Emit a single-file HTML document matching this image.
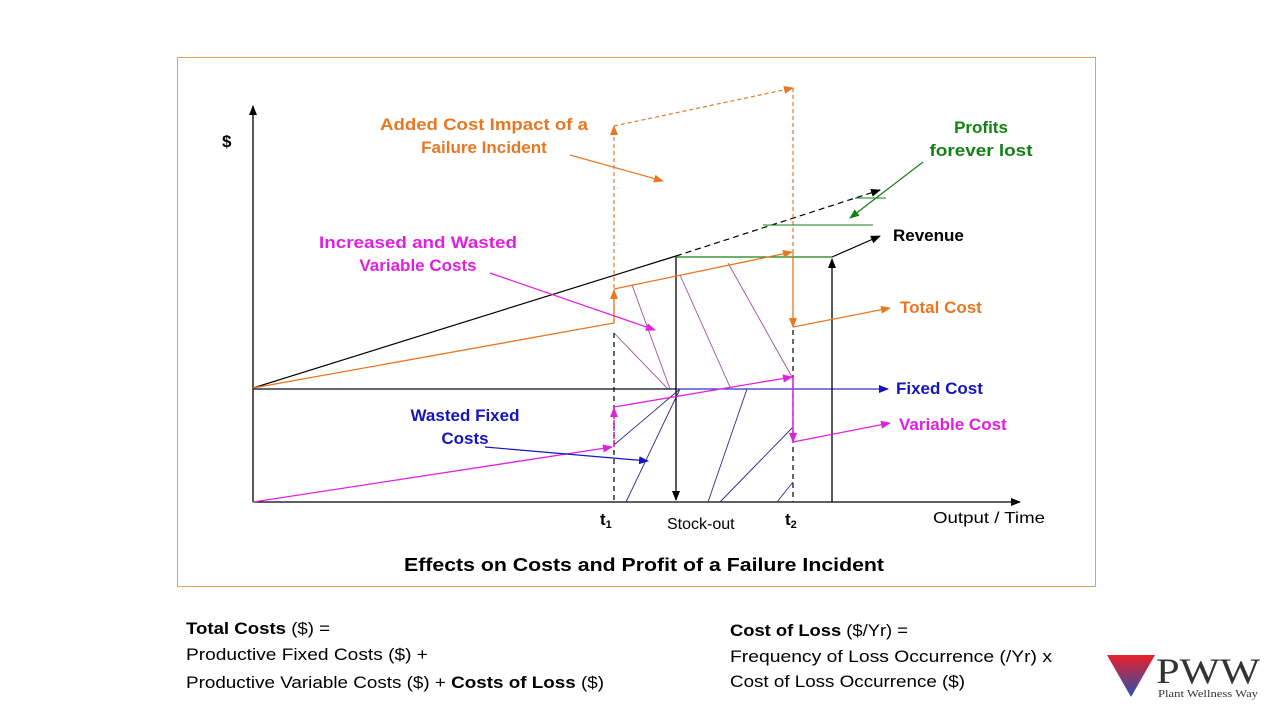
<!DOCTYPE html>
<html><head><meta charset="utf-8"><style>
html,body{margin:0;padding:0;background:#fff}
svg{display:block}
</style></head><body>
<svg width="1280" height="720" viewBox="0 0 1280 720" xmlns="http://www.w3.org/2000/svg" font-family="Liberation Sans, sans-serif">
<defs>
<marker id="ak" markerWidth="10" markerHeight="8" refX="9" refY="4" orient="auto" markerUnits="userSpaceOnUse"><path d="M0,0L10,4L0,8z" fill="#000"/></marker>
<marker id="ao" markerWidth="10" markerHeight="8" refX="9" refY="4" orient="auto" markerUnits="userSpaceOnUse"><path d="M0,0L10,4L0,8z" fill="#e87722"/></marker>
<marker id="ap" markerWidth="10" markerHeight="8" refX="9" refY="4" orient="auto" markerUnits="userSpaceOnUse"><path d="M0,0L10,4L0,8z" fill="#e020e0"/></marker>
<marker id="ab" markerWidth="10" markerHeight="8" refX="9" refY="4" orient="auto" markerUnits="userSpaceOnUse"><path d="M0,0L10,4L0,8z" fill="#1515c0"/></marker>
<marker id="ag" markerWidth="10" markerHeight="8" refX="9" refY="4" orient="auto" markerUnits="userSpaceOnUse"><path d="M0,0L10,4L0,8z" fill="#138013"/></marker>
<linearGradient id="tri" x1="0" y1="0" x2="0" y2="1"><stop offset="0" stop-color="#e8202a"/><stop offset="1" stop-color="#2a4fb0"/></linearGradient>
</defs>
<rect x="177.5" y="57.5" width="918" height="529" fill="none" stroke="#e0a060" stroke-width="1"/>
<line x1="253" y1="502" x2="253" y2="106" stroke="#000" stroke-width="1.3" marker-end="url(#ak)"/>
<line x1="253" y1="502" x2="1020" y2="502" stroke="#000" stroke-width="1.3" marker-end="url(#ak)"/>
<g stroke="#a050a0" stroke-width="0.9">
<line x1="614" y1="333" x2="668" y2="389"/>
<line x1="632" y1="285" x2="670" y2="389"/>
<line x1="680" y1="275" x2="730" y2="387"/>
<line x1="728" y1="263" x2="792" y2="377"/>
</g>
<g stroke="#2a2a90" stroke-width="0.9">
<line x1="614" y1="445" x2="680" y2="389"/>
<line x1="626" y1="502" x2="680" y2="389"/>
<line x1="708" y1="502" x2="747" y2="389"/>
<line x1="777" y1="502" x2="793" y2="482"/>
<line x1="720" y1="502" x2="793" y2="427"/>
</g>
<line x1="253" y1="389" x2="888" y2="389" stroke="#3030c8" stroke-width="1.3" marker-end="url(#ab)"/>
<line x1="253" y1="389" x2="676" y2="389" stroke="#000" stroke-width="1"/>
<line x1="253" y1="388" x2="676" y2="256" stroke="#000" stroke-width="1.2"/>
<line x1="676" y1="256" x2="880" y2="190" stroke="#000" stroke-width="1.2" stroke-dasharray="6,4" marker-end="url(#ak)"/>
<line x1="832" y1="257" x2="880" y2="236" stroke="#000" stroke-width="1.2" marker-end="url(#ak)"/>
<line x1="676" y1="257" x2="676" y2="500" stroke="#000" stroke-width="1.3" marker-end="url(#ak)"/>
<line x1="832" y1="502" x2="832" y2="259" stroke="#000" stroke-width="1.3" marker-end="url(#ak)"/>
<line x1="676" y1="257" x2="832" y2="257" stroke="#138013" stroke-width="1.3"/>
<line x1="614" y1="333" x2="614" y2="502" stroke="#000" stroke-width="1.2" stroke-dasharray="5,4"/>
<line x1="793" y1="330" x2="793" y2="502" stroke="#000" stroke-width="1.2" stroke-dasharray="5,4"/>
<line x1="614" y1="323" x2="614" y2="126" stroke="#e87722" stroke-width="1.2" stroke-dasharray="4,3" marker-end="url(#ao)"/>
<line x1="614" y1="126" x2="793" y2="88" stroke="#e87722" stroke-width="1.2" stroke-dasharray="4,3" marker-end="url(#ao)"/>
<line x1="793" y1="88" x2="793" y2="252" stroke="#e87722" stroke-width="1.2" stroke-dasharray="4,3"/>
<polyline points="253,388 614,323 614,290" fill="none" stroke="#e87722" stroke-width="1.3" marker-end="url(#ao)"/>
<line x1="614" y1="289" x2="792" y2="252" stroke="#e87722" stroke-width="1.3" marker-end="url(#ao)"/>
<line x1="793" y1="252" x2="793" y2="327" stroke="#e87722" stroke-width="1.3" marker-end="url(#ao)"/>
<line x1="793" y1="327" x2="890" y2="308" stroke="#e87722" stroke-width="1.3" marker-end="url(#ao)"/>
<line x1="253" y1="502" x2="612" y2="447" stroke="#e020e0" stroke-width="1.3" marker-end="url(#ap)"/>
<line x1="614" y1="447" x2="614" y2="408" stroke="#e020e0" stroke-width="1.5" stroke-dasharray="3,1" marker-end="url(#ap)"/>
<line x1="614" y1="407" x2="792" y2="377" stroke="#e020e0" stroke-width="1.3" marker-end="url(#ap)"/>
<line x1="793" y1="377" x2="793" y2="442" stroke="#e020e0" stroke-width="1.5" marker-end="url(#ap)"/>
<line x1="793" y1="442" x2="890" y2="423" stroke="#e020e0" stroke-width="1.3" marker-end="url(#ap)"/>
<line x1="570" y1="155" x2="663" y2="181" stroke="#e87722" stroke-width="1.2" marker-end="url(#ao)"/>
<line x1="490" y1="273" x2="655" y2="330" stroke="#e020e0" stroke-width="1.2" marker-end="url(#ap)"/>
<line x1="485" y1="447" x2="648" y2="461" stroke="#1515c0" stroke-width="1.2" marker-end="url(#ab)"/>
<line x1="923" y1="162" x2="850" y2="218" stroke="#138013" stroke-width="1.2" marker-end="url(#ag)"/>
<line x1="855" y1="198" x2="886" y2="198" stroke="#138013" stroke-width="1"/>
<line x1="763" y1="225" x2="873" y2="225" stroke="#138013" stroke-width="1"/>
<g font-weight="bold" font-size="17">
<text x="222" y="147" fill="#000">$</text>
<text x="484" y="130" fill="#e87722" text-anchor="middle" textLength="208" lengthAdjust="spacingAndGlyphs">Added Cost Impact of a</text>
<text x="484" y="153" fill="#e87722" text-anchor="middle">Failure Incident</text>
<text x="981" y="133" fill="#138013" text-anchor="middle">Profits</text>
<text x="981" y="156" fill="#138013" text-anchor="middle" textLength="103" lengthAdjust="spacingAndGlyphs">forever lost</text>
<text x="418" y="248" fill="#e020e0" text-anchor="middle" textLength="198" lengthAdjust="spacingAndGlyphs">Increased and Wasted</text>
<text x="418" y="271" fill="#e020e0" text-anchor="middle">Variable Costs</text>
<text x="893" y="241" fill="#000">Revenue</text>
<text x="900" y="313" fill="#e87722">Total Cost</text>
<text x="896" y="394" fill="#1515c0">Fixed Cost</text>
<text x="899" y="430" fill="#e020e0">Variable Cost</text>
<text x="465" y="421" fill="#1515c0" text-anchor="middle">Wasted Fixed</text>
<text x="465" y="444" fill="#1515c0" text-anchor="middle">Costs</text>
<text x="600" y="525" fill="#000">t<tspan font-size="11" dy="3">1</tspan></text>
<text x="785" y="525" fill="#000">t<tspan font-size="11" dy="3">2</tspan></text>
<text x="644" y="571" fill="#000" text-anchor="middle" font-size="18" textLength="480" lengthAdjust="spacingAndGlyphs">Effects on Costs and Profit of a Failure Incident</text>
</g>
<text x="667" y="529" font-size="16" fill="#000">Stock-out</text>
<text x="933" y="523" font-size="16" fill="#000" textLength="112" lengthAdjust="spacingAndGlyphs">Output / Time</text>
<g font-size="17" fill="#000">
<text x="186" y="634" textLength="144" lengthAdjust="spacingAndGlyphs"><tspan font-weight="bold">Total Costs</tspan> ($)  =</text>
<text x="186" y="660" textLength="242" lengthAdjust="spacingAndGlyphs">Productive Fixed Costs ($)  +</text>
<text x="186" y="688" textLength="418" lengthAdjust="spacingAndGlyphs">Productive Variable Costs ($)  +  <tspan font-weight="bold">Costs of Loss</tspan> ($)</text>
<text x="730" y="636" textLength="178" lengthAdjust="spacingAndGlyphs"><tspan font-weight="bold">Cost of Loss</tspan> ($/Yr)  =</text>
<text x="730" y="662" textLength="322" lengthAdjust="spacingAndGlyphs">Frequency of Loss Occurrence (/Yr)  x</text>
<text x="730" y="687" textLength="235" lengthAdjust="spacingAndGlyphs">Cost of Loss Occurrence ($)</text>
</g>
<polygon points="1107,655 1155,655 1131,697" fill="url(#tri)"/>
<text x="1156" y="683" style="font-family:'Liberation Serif',serif" font-size="36" fill="#333" textLength="104" lengthAdjust="spacingAndGlyphs">PWW</text>
<text x="1158" y="697" style="font-family:'Liberation Serif',serif" font-size="11" fill="#333" textLength="100" lengthAdjust="spacingAndGlyphs">Plant Wellness Way</text>
</svg>
</body></html>
